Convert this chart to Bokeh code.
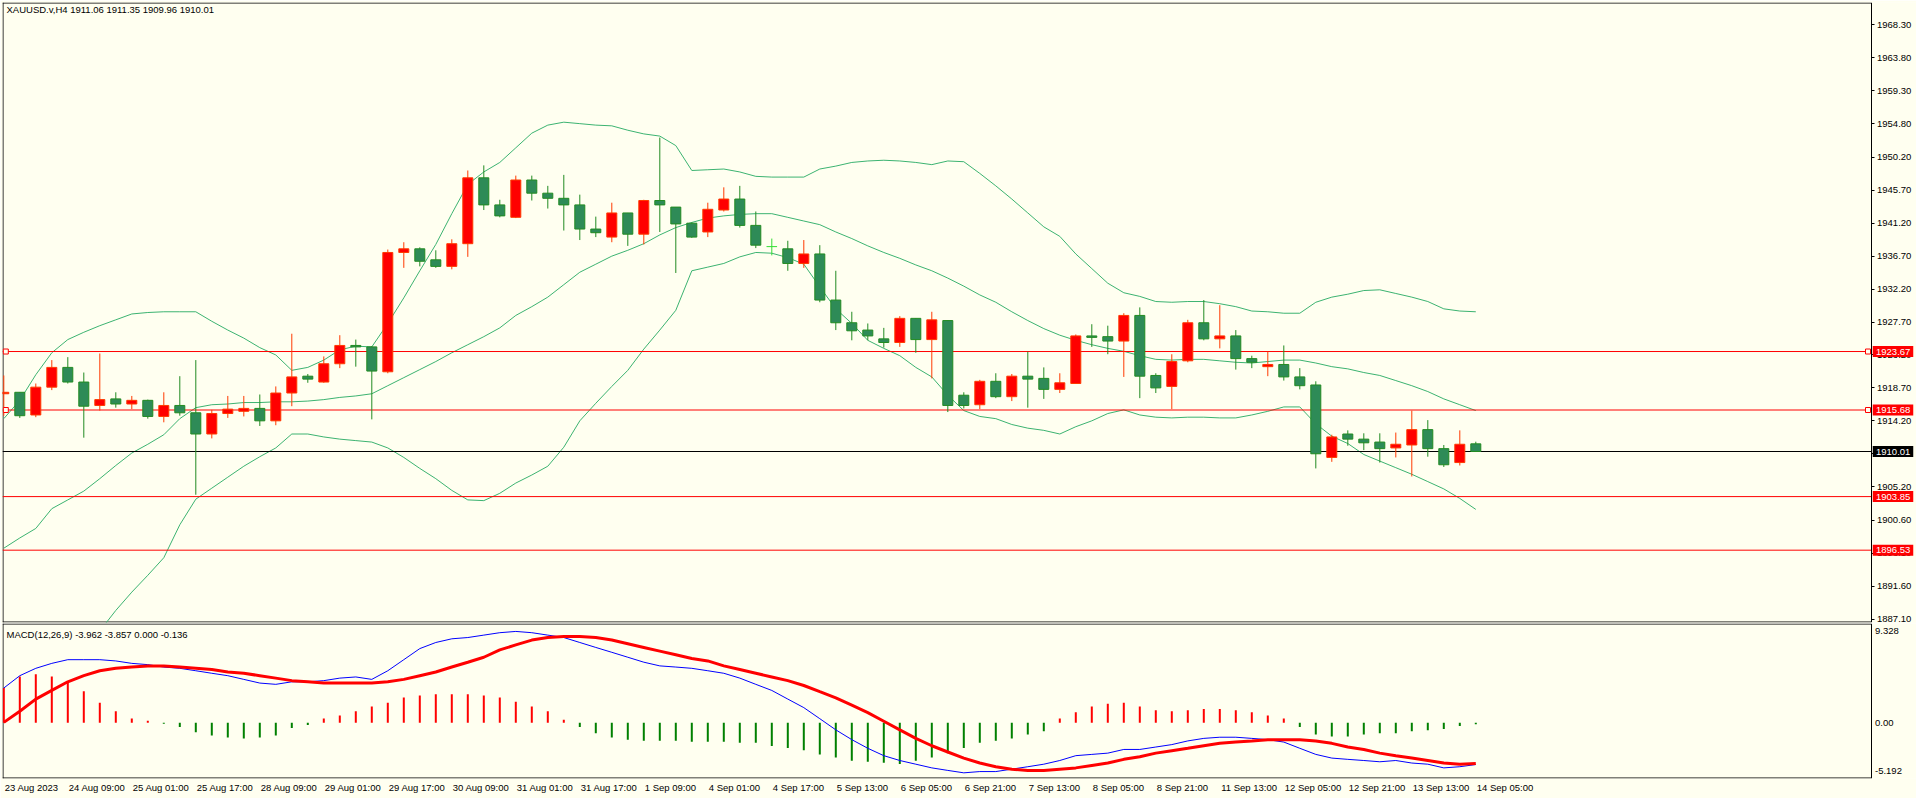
from bokeh.plotting import figure
from bokeh.models import Range1d, FixedTicker, Label, PrintfTickFormatter, ColumnDataSource, LinearAxis
from bokeh.layouts import column
from bokeh.embed import file_html
from bokeh.resources import INLINE
from bokeh.core.properties import value

try:
    from bokeh.models import GlobalInlineStyleSheet
    GSS = GlobalInlineStyleSheet(css="html,body{margin:0;padding:0;overflow:hidden;}")
except Exception:
    GSS = None

# ---------------- data ----------------
TITLE = "XAUUSD.v,H4  1911.06 1911.35 1909.96 1910.01"
MACD_TITLE = "MACD(12,26,9) -3.962 -3.857 0.000 -0.136"

O = [1917.9, 1918.1, 1915.0, 1918.8, 1921.5, 1919.5, 1916.3, 1917.2, 1916.5, 1917.0,
     1914.8, 1916.3, 1915.3, 1912.4, 1915.2, 1915.5, 1915.9, 1914.2, 1918.0, 1920.3,
     1919.5, 1922.0, 1924.5, 1924.3, 1920.9, 1937.2, 1937.7, 1936.2, 1935.3, 1938.4,
     1947.4, 1943.7, 1942.0, 1947.1, 1945.3, 1944.6, 1943.7, 1940.4, 1939.3, 1942.6,
     1939.7, 1944.3, 1943.4, 1941.2, 1940.0, 1943.0, 1944.5, 1940.9, 1938.0, 1937.7,
     1935.7, 1937.0, 1930.7, 1927.6, 1926.6, 1925.4, 1924.9, 1928.2, 1925.3, 1927.9,
     1917.7, 1916.4, 1919.6, 1917.5, 1920.3, 1920.0, 1918.5, 1919.3, 1925.8, 1925.7,
     1925.1, 1928.6, 1920.4, 1918.9, 1922.4, 1927.6, 1925.4, 1925.8, 1922.7, 1921.6,
     1921.9, 1920.2, 1919.1, 1909.2, 1912.4, 1911.7, 1911.3, 1910.5, 1910.9, 1913.0,
     1910.4, 1908.5, 1911.06]
H = [1920.4, 1918.1, 1919.3, 1922.5, 1922.9, 1920.8, 1923.4, 1918.1, 1917.6, 1917.1,
     1918.1, 1920.3, 1922.5, 1915.7, 1917.6, 1917.6, 1917.8, 1918.9, 1926.1, 1920.6,
     1923.0, 1925.9, 1925.3, 1924.4, 1937.6, 1938.6, 1937.9, 1937.5, 1939.0, 1948.4,
     1949.1, 1944.4, 1947.7, 1947.7, 1946.3, 1947.8, 1945.1, 1942.1, 1944.0, 1942.6,
     1944.4, 1952.9, 1943.4, 1941.3, 1944.0, 1946.1, 1946.3, 1942.8, 1939.1, 1938.8,
     1938.9, 1938.2, 1934.7, 1929.1, 1927.5, 1926.9, 1928.5, 1928.2, 1929.1, 1927.9,
     1918.1, 1919.8, 1920.7, 1920.6, 1923.65, 1921.5, 1920.7, 1926.0, 1927.4, 1927.2,
     1928.9, 1929.7, 1920.7, 1923.3, 1928.0, 1930.7, 1930.0, 1926.6, 1923.1, 1923.65,
     1924.5, 1921.4, 1919.6, 1912.3, 1912.9, 1912.5, 1912.5, 1912.6, 1915.6, 1914.3,
     1910.9, 1912.9, 1911.35]
L = [1914.9, 1914.6, 1914.7, 1918.4, 1919.3, 1911.9, 1915.6, 1916.0, 1915.8, 1914.5,
     1914.0, 1914.9, 1904.1, 1911.8, 1914.6, 1914.8, 1913.5, 1913.6, 1916.2, 1919.4,
     1919.4, 1921.4, 1921.6, 1914.4, 1920.7, 1935.1, 1935.3, 1935.1, 1934.9, 1936.6,
     1943.0, 1942.0, 1941.9, 1944.3, 1943.2, 1940.2, 1938.9, 1939.3, 1938.6, 1938.1,
     1938.3, 1940.0, 1934.4, 1939.2, 1939.3, 1942.8, 1940.6, 1937.8, 1936.8, 1934.7,
     1935.1, 1930.4, 1926.6, 1925.2, 1925.2, 1924.2, 1924.3, 1923.5, 1920.0, 1915.4,
     1915.9, 1915.8, 1917.3, 1916.9, 1916.0, 1917.2, 1918.0, 1919.3, 1924.3, 1923.3,
     1920.2, 1917.3, 1918.0, 1915.8, 1922.2, 1925.2, 1924.1, 1921.2, 1921.4, 1920.3,
     1919.7, 1918.5, 1907.7, 1908.6, 1910.8, 1910.2, 1908.5, 1909.2, 1906.6, 1909.3,
     1907.9, 1908.1, 1909.96]
C = [1918.1, 1914.9, 1918.8, 1921.5, 1919.5, 1916.2, 1917.1, 1916.5, 1917.0, 1914.8,
     1916.3, 1915.3, 1912.4, 1915.2, 1915.8, 1915.9, 1914.2, 1918.0, 1920.2, 1919.9,
     1922.0, 1924.5, 1924.3, 1921.0, 1937.2, 1937.7, 1936.0, 1935.3, 1938.4, 1947.4,
     1943.7, 1942.2, 1947.1, 1945.3, 1944.6, 1943.7, 1940.4, 1939.9, 1942.6, 1939.7,
     1944.3, 1943.7, 1941.1, 1939.3, 1943.1, 1944.5, 1940.9, 1938.2, 1938.0, 1935.7,
     1937.0, 1930.7, 1927.6, 1926.5, 1925.8, 1924.9, 1928.2, 1925.3, 1928.0, 1916.3,
     1916.3, 1919.6, 1917.5, 1920.3, 1919.9, 1918.5, 1919.4, 1925.8, 1925.6, 1925.1,
     1928.6, 1920.3, 1918.7, 1922.3, 1927.6, 1925.4, 1925.8, 1922.7, 1922.2, 1921.9,
     1920.2, 1919.0, 1909.7, 1912.0, 1911.7, 1911.2, 1910.4, 1911.0, 1913.0, 1910.4,
     1908.2, 1911.0, 1910.01]

BB_UPPER = [1914.5, 1917.0, 1920.5, 1923.5, 1925.3, 1926.3, 1927.2, 1928.0, 1928.8, 1929.0,
            1929.1, 1929.1, 1929.1, 1927.8, 1926.6, 1925.5, 1924.2, 1923.2, 1921.1, 1921.5,
            1922.5, 1923.9, 1924.4, 1924.3, 1927.5, 1931.0, 1934.7, 1938.3, 1942.5, 1946.5,
            1948.2, 1949.5, 1951.5, 1953.5, 1954.6, 1955.0, 1954.8, 1954.6, 1954.5, 1953.9,
            1953.4, 1953.1, 1951.8, 1948.4, 1948.5, 1948.6, 1948.2, 1947.6, 1947.5, 1947.5,
            1947.5, 1948.6, 1949.0, 1949.5, 1949.7, 1949.8, 1949.7, 1949.5, 1949.2, 1949.7,
            1949.6, 1948.0, 1946.3, 1944.5, 1942.6, 1940.7, 1939.4, 1937.0, 1935.0, 1933.0,
            1931.7, 1931.2, 1930.5, 1930.4, 1930.5, 1930.5, 1930.2, 1929.8, 1929.2, 1929.1,
            1928.9, 1928.9, 1930.4, 1931.1, 1931.5, 1932.0, 1932.1, 1931.6, 1931.1, 1930.5,
            1929.5, 1929.2, 1929.1]
BB_MIDDLE = [1896.8, 1898.2, 1899.5, 1902.2, 1903.4, 1904.6, 1906.3, 1908.1, 1909.8, 1911.0,
             1912.3, 1914.5, 1916.0, 1916.4, 1916.5, 1916.7, 1916.7, 1916.8, 1916.8, 1916.9,
             1917.1, 1917.4, 1917.6, 1917.9, 1919.0, 1920.1, 1921.2, 1922.3, 1923.5, 1924.6,
             1925.7, 1926.9, 1928.6, 1929.8, 1931.1, 1932.8, 1934.5, 1935.6, 1936.7, 1937.5,
             1938.4, 1939.6, 1940.6, 1941.3, 1941.9, 1942.2, 1942.4, 1942.5, 1942.5, 1942.0,
             1941.5, 1941.0, 1940.0, 1939.1, 1938.1, 1937.2, 1936.4, 1935.5, 1934.7, 1933.7,
             1932.6, 1931.4, 1930.4, 1929.1, 1927.9, 1926.8, 1925.9, 1925.2, 1924.6, 1924.1,
             1923.7, 1923.1, 1922.6, 1922.5, 1922.6, 1922.6, 1922.4, 1922.2, 1922.1, 1922.3,
             1922.5, 1922.5, 1922.1, 1921.6, 1921.3, 1920.8, 1920.4, 1919.7, 1919.0, 1918.2,
             1917.2, 1916.4, 1915.6]
BB_LOWER = [1879.0, 1879.5, 1878.5, 1881.0, 1881.5, 1883.0, 1885.5, 1888.3, 1890.8, 1893.1,
            1895.5, 1900.0, 1903.5, 1905.0, 1906.5, 1908.0, 1909.3, 1910.5, 1912.4, 1912.4,
            1912.0, 1911.7, 1911.5, 1911.3, 1910.5, 1909.2, 1907.7, 1906.3, 1904.7, 1903.4,
            1903.3, 1904.3, 1905.7, 1906.8, 1908.0, 1910.6, 1914.2, 1916.6, 1918.9, 1921.1,
            1924.0, 1926.6, 1929.3, 1934.7, 1935.2, 1935.7, 1936.6, 1937.2, 1937.1, 1936.5,
            1935.6, 1932.5, 1929.5, 1927.5, 1925.2, 1924.1, 1923.1, 1921.5, 1920.2, 1917.7,
            1915.6, 1914.8, 1914.5, 1913.7, 1913.2, 1912.9, 1912.4, 1913.4, 1914.2, 1915.2,
            1915.7, 1915.0, 1914.7, 1914.6, 1914.7, 1914.7, 1914.6, 1914.6, 1915.0, 1915.5,
            1916.1, 1916.1, 1913.8, 1912.1, 1911.1, 1909.6, 1908.7, 1907.8, 1906.9, 1905.9,
            1904.9, 1903.6, 1902.1]

MACD_MAIN = [3.30, 4.47, 5.17, 5.64, 5.99, 5.99, 5.99, 5.87, 5.64, 5.52,
             5.29, 5.17, 4.94, 4.70, 4.47, 4.12, 3.77, 3.65, 3.89, 3.89,
             4.00, 4.24, 4.35, 4.12, 4.94, 5.99, 7.04, 7.62, 7.97, 8.09,
             8.32, 8.55, 8.67, 8.55, 8.32, 8.09, 7.62, 7.15, 6.69, 6.22,
             5.75, 5.40, 5.29, 5.17, 4.94, 4.70, 4.24, 3.65, 3.07, 2.25,
             1.44, 0.39, -0.67, -1.60, -2.42, -3.12, -3.58, -3.93, -4.28, -4.52,
             -4.75, -4.63, -4.63, -4.40, -4.17, -3.93, -3.58, -3.12, -3.00, -2.88,
             -2.53, -2.53, -2.30, -2.07, -1.72, -1.48, -1.37, -1.37, -1.48, -1.60,
             -1.83, -2.42, -3.00, -3.35, -3.47, -3.58, -3.70, -3.58, -3.82, -3.93,
             -4.28, -4.17, -3.962]
MACD_SIGNAL = [0.04, 1.09, 2.25, 3.07, 3.89, 4.47, 4.94, 5.17, 5.29, 5.40,
               5.40, 5.29, 5.17, 5.05, 4.82, 4.70, 4.47, 4.24, 4.00, 3.89,
               3.77, 3.77, 3.77, 3.77, 3.89, 4.12, 4.47, 4.82, 5.29, 5.75,
               6.22, 6.92, 7.39, 7.85, 8.09, 8.20, 8.20, 8.09, 7.85, 7.50,
               7.15, 6.80, 6.45, 6.10, 5.87, 5.40, 5.05, 4.70, 4.35, 4.00,
               3.54, 2.95, 2.37, 1.67, 0.97, 0.15, -0.67, -1.48, -2.18, -2.77,
               -3.35, -3.82, -4.17, -4.40, -4.52, -4.52, -4.40, -4.28, -4.05, -3.82,
               -3.47, -3.23, -2.88, -2.65, -2.42, -2.18, -1.95, -1.83, -1.72, -1.60,
               -1.60, -1.60, -1.72, -1.95, -2.30, -2.53, -2.88, -3.12, -3.35, -3.58,
               -3.82, -3.93, -3.857]
MACD_HIST = [3.3, 4.4, 4.6, 4.4, 3.9, 3.0, 1.9, 1.1, 0.4, 0.2,
             -0.1, -0.4, -0.9, -1.2, -1.4, -1.5, -1.4, -1.2, -0.5, -0.2,
             0.4, 0.7, 1.1, 1.55, 1.9, 2.4, 2.6, 2.7, 2.7, 2.7,
             2.6, 2.4, 2.0, 1.55, 1.1, 0.3, -0.4, -1.0, -1.4, -1.6,
             -1.7, -1.7, -1.7, -1.8, -1.8, -1.8, -1.9, -1.9, -2.2, -2.4,
             -2.6, -3.0, -3.3, -3.6, -3.7, -3.8, -3.9, -3.6, -3.3, -2.9,
             -2.4, -1.9, -1.7, -1.5, -1.1, -0.8, 0.4, 1.0, 1.55, 1.8,
             1.9, 1.55, 1.2, 1.1, 1.2, 1.3, 1.3, 1.2, 1.0, 0.7,
             0.4, -0.4, -1.1, -1.3, -1.3, -1.1, -1.0, -1.0, -0.8, -0.7,
             -0.6, -0.3, -0.136]

PRICE_TICKS = [1968.30, 1963.80, 1959.30, 1954.80, 1950.20, 1945.70, 1941.20, 1936.70,
               1932.20, 1927.70, 1923.20, 1918.70, 1914.20, 1909.70, 1905.20, 1900.60,
               1896.10, 1891.60, 1887.10]
RED_LEVELS = [1923.67, 1915.68, 1903.85, 1896.53]
MARKED_LEVELS = [1923.67, 1915.68]
BID = 1910.01

MACD_AXIS_LABELS = ["9.328", "0.00", "-5.192"]
MACD_AXIS_VALUES = [9.328, 0.0, -5.192]

X_LABEL_BARS = list(range(0, 93, 4))
X_LABELS = ["23 Aug 2023", "24 Aug 09:00", "25 Aug 01:00", "25 Aug 17:00", "28 Aug 09:00",
            "29 Aug 01:00", "29 Aug 17:00", "30 Aug 09:00", "31 Aug 01:00", "31 Aug 17:00",
            "1 Sep 09:00", "4 Sep 01:00", "4 Sep 17:00", "5 Sep 13:00", "6 Sep 05:00",
            "6 Sep 21:00", "7 Sep 13:00", "8 Sep 05:00", "8 Sep 21:00", "11 Sep 13:00",
            "12 Sep 05:00", "12 Sep 21:00", "13 Sep 13:00", "14 Sep 05:00"]

# ---------------- style / geometry ----------------
BG = "#FFFFF0"
FONT = "Liberation Sans"
FS = "9.5px"
FSN = 9.5
UP_FILL, UP_LINE = "#FF0000", "#FF3A00"
DN_FILL, DN_LINE = "#2E8B57", "#228B22"
DOJI = "#33DD33"
BAND = "#3CB371"

PPB = 16.0                       # pixels per bar
FRAME_W = 1914                   # frame spans canvas x 2..1916
BAR0_PX = 3.3                    # canvas x of bar 0 centre
def xd(px):                      # canvas pixel -> bar coordinate
    return (px - BAR0_PX) / PPB
x_range = Range1d(xd(2), xd(2 + FRAME_W))
X_AXIS = xd(1870.5)

# main panel: frame canvas rows 2..622
H1 = 620
Y1_TOP, Y1_BOT = 1971.35, 1971.35 - 620 / 7.32
PXU1 = H1 / (Y1_TOP - Y1_BOT)
# MACD panel: frame canvas rows 623..778
H2 = 155
Y2_TOP, Y2_BOT = 9.328 + 1 / 10.537, -5.192 - 1 / 10.537
PXU2 = H2 / (Y2_TOP - Y2_BOT)

n = len(C)
idx = list(range(n))


def style_axis(a):
    a.major_tick_in = 0
    a.minor_tick_out = 0
    a.minor_tick_in = 0
    a.major_label_text_font = FONT
    a.major_label_text_font_size = FS
    a.major_label_text_color = "black"
    a.axis_line_color = "black"
    a.major_tick_line_color = "black"


def borders(p, ytop, ybot, pxu):
    x_in = x_range.start + 0.5 / PPB
    p.segment(x0=[x_range.start, x_range.start, x_in],
              y0=[ytop - 0.5 / pxu, ybot + 0.5 / pxu, ybot],
              x1=[X_AXIS, X_AXIS, x_in],
              y1=[ytop - 0.5 / pxu, ybot + 0.5 / pxu, ytop],
              line_color="black", line_width=1)


p1 = figure(frame_width=FRAME_W, frame_height=H1,
            min_border_left=2, min_border_right=0, min_border_top=2, min_border_bottom=1,
            x_range=x_range, y_range=Range1d(Y1_BOT, Y1_TOP),
            x_axis_location=None, y_axis_location=None,
            toolbar_location=None, output_backend="svg",
            background_fill_color=BG, border_fill_color=BG, outline_line_color=None)
p1.xgrid.visible = False
p1.ygrid.visible = False

ax = LinearAxis(fixed_location=X_AXIS, ticker=FixedTicker(ticks=PRICE_TICKS),
                formatter=PrintfTickFormatter(format="%.2f"))
style_axis(ax)
ax.major_tick_out = 3
ax.major_label_standoff = 3
p1.add_layout(ax, "right")

borders(p1, Y1_TOP, Y1_BOT, PXU1)

# bands
p1.line(idx, BB_UPPER, line_color=BAND, line_width=1)
p1.line(idx, BB_MIDDLE, line_color=BAND, line_width=1)
p1.line(idx, BB_LOWER, line_color=BAND, line_width=1)

# horizontal levels (stop at price axis)
lv_all = RED_LEVELS + [BID]
p1.segment(x0=[x_range.start] * len(lv_all), y0=lv_all, x1=[X_AXIS] * len(lv_all), y1=lv_all,
           line_color=["#FF0000"] * len(RED_LEVELS) + ["black"], line_width=1)

# candles
kinds = ["up" if C[i] > O[i] else ("dn" if C[i] < O[i] else "doji") for i in idx]
wick_col = [UP_LINE if k == "up" else (DN_LINE if k == "dn" else DOJI) for k in kinds]
body_i = [i for i in idx if kinds[i] != "doji"]
src_w = ColumnDataSource(dict(x=idx, lo=L, hi=H, c=wick_col))
p1.segment(x0="x", y0="lo", x1="x", y1="hi", line_color="c", line_width=1, source=src_w)
src_b = ColumnDataSource(dict(
    x=body_i,
    top=[max(O[i], C[i]) for i in body_i],
    bot=[min(O[i], C[i]) for i in body_i],
    f=[UP_FILL if kinds[i] == "up" else DN_FILL for i in body_i],
    l=[UP_LINE if kinds[i] == "up" else DN_LINE for i in body_i]))
p1.vbar(x="x", width=0.625, top="top", bottom="bot", fill_color="f", line_color="l",
        line_width=1, source=src_b)
doji_i = [i for i in idx if kinds[i] == "doji"]
if doji_i:
    p1.segment(x0=[i - 0.33 for i in doji_i], y0=[O[i] for i in doji_i],
               x1=[i + 0.33 for i in doji_i], y1=[O[i] for i in doji_i],
               line_color=DOJI, line_width=1)

# line anchor squares
p1.scatter(x=[xd(5.3)] * len(MARKED_LEVELS) + [xd(1867.5)] * len(MARKED_LEVELS),
           y=MARKED_LEVELS + MARKED_LEVELS, marker="square", size=5,
           fill_color=BG, line_color="#FF0000", line_width=1)

# price tags on the axis
tag_col = ["#FF0000"] * len(RED_LEVELS) + ["black"]
r_rect = p1.rect(x=[xd(1892.5)] * len(lv_all), y=lv_all, width=40.5 / PPB, height=11,
                 height_units="screen", fill_color=tag_col, line_color=None)
r_txt = p1.text(x=[xd(1875.5)] * len(lv_all), y=lv_all, text=["%.2f" % v for v in lv_all],
                text_color="white", text_font=value(FONT), text_font_size=value(FS),
                text_baseline="middle", text_align="left")
r_rect.level = "annotation"
r_txt.level = "annotation"

# title
p1.add_layout(Label(x=4, y=H1 - 1, x_units="screen", y_units="screen", text=TITLE,
                    text_baseline="top", text_align="left", text_font=FONT,
                    text_font_size=FS, text_color="black"))

# ---------------- MACD panel ----------------
p2 = figure(frame_width=FRAME_W, frame_height=H2,
            min_border_left=2, min_border_right=0, min_border_top=0, min_border_bottom=20,
            x_range=x_range, y_range=Range1d(Y2_BOT, Y2_TOP),
            x_axis_location="below", y_axis_location=None,
            toolbar_location=None, output_backend="svg",
            background_fill_color=BG, border_fill_color=BG, outline_line_color=None)
p2.xgrid.visible = False
p2.ygrid.visible = False

borders(p2, Y2_TOP, Y2_BOT, PXU2)

hist_col = ["#FF0000" if v > 0 else "#008000" for v in MACD_HIST]
p2.segment(x0=idx, y0=[0] * n, x1=idx, y1=MACD_HIST, line_color=hist_col, line_width=2)
p2.line(idx, MACD_MAIN, line_color="#0000FF", line_width=1)
p2.line(idx, MACD_SIGNAL, line_color="#FF0000", line_width=3)

p2.add_layout(Label(x=4, y=H2 - 5, x_units="screen", y_units="screen", text=MACD_TITLE,
                    text_baseline="top", text_align="left", text_font=FONT,
                    text_font_size=FS, text_color="black"))

tick_pos = []
for v in MACD_AXIS_VALUES:
    if v == max(MACD_AXIS_VALUES):
        tick_pos.append(v - 6 / PXU2)
    elif v == min(MACD_AXIS_VALUES):
        tick_pos.append(v + 6 / PXU2)
    else:
        tick_pos.append(v)
ay = LinearAxis(fixed_location=X_AXIS, ticker=FixedTicker(ticks=tick_pos))
ay.major_label_overrides = {t: s for t, s in zip(tick_pos, MACD_AXIS_LABELS)}
style_axis(ay)
ay.major_tick_out = 0
ay.major_label_standoff = 4
p2.add_layout(ay, "right")

# bottom time axis: label left edges at bar centres
CW = {" ": 0.278, ":": 0.278, "A": 0.667, "S": 0.667}
def text_w(s):
    return sum(CW.get(ch, 0.556) for ch in s) * FSN

xt = [b + (text_w(s) / 2 + 1) / PPB for b, s in zip(X_LABEL_BARS, X_LABELS)]
axx = p2.xaxis[0]
axx.ticker = FixedTicker(ticks=xt)
axx.major_label_overrides = {t: s for t, s in zip(xt, X_LABELS)}
style_axis(axx)
axx.major_tick_out = 0
axx.major_label_standoff = 3
axx.axis_line_color = None

layout = column(p1, p2, spacing=0)
if GSS is not None:
    layout.stylesheets = [GSS]

open("out.html", "w").write(file_html(layout, INLINE))
